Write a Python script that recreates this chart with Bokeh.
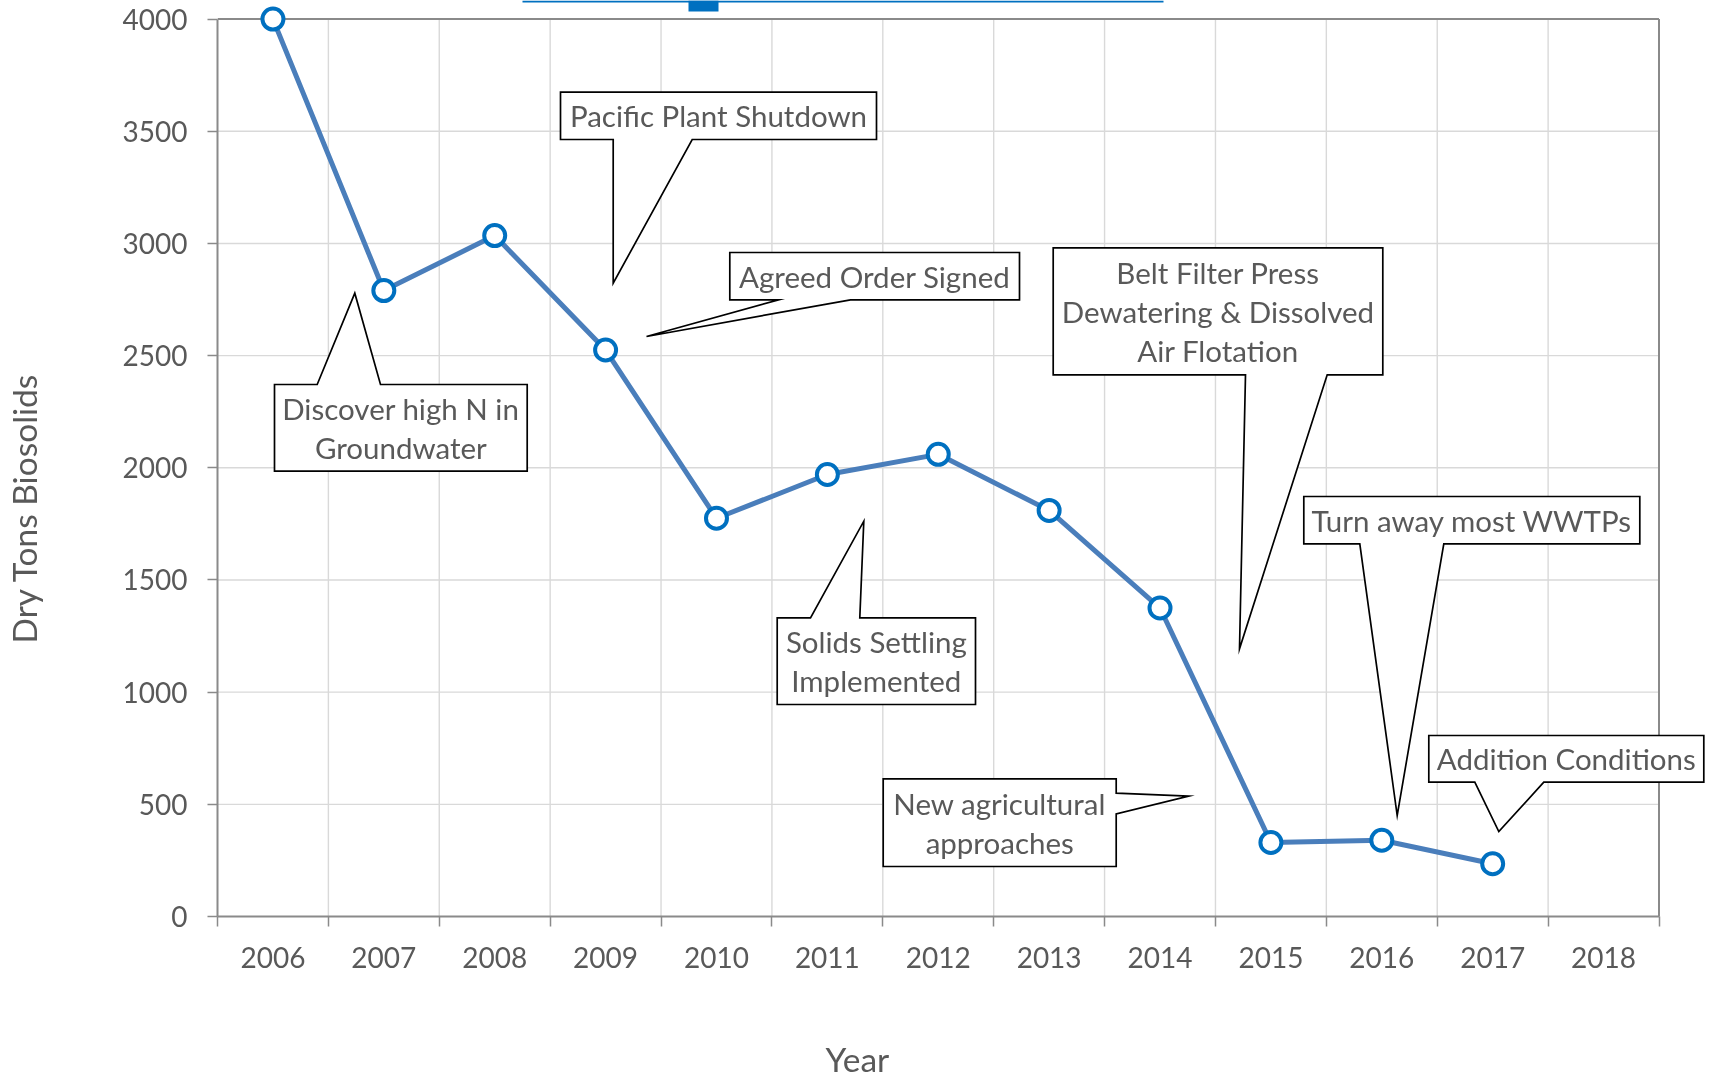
import math
from bokeh.plotting import figure
from bokeh.models import Range1d, FixedTicker, Title, LinearAxis
from bokeh.core.properties import value
from bokeh.embed import file_html
from bokeh.resources import INLINE

# ---------------- data ----------------
years = ["2006", "2007", "2008", "2009", "2010", "2011", "2012",
         "2013", "2014", "2015", "2016", "2017", "2018"]
tons = [4000, 2790, 3035, 2525, 1775, 1970, 2060, 1810, 1375, 330, 340, 235]
y_ticks = [0, 500, 1000, 1500, 2000, 2500, 3000, 3500, 4000]

x_title = "Year"
y_title = "Dry Tons Biosolids"

# callout annotations (box and pointer given in page pixels)
callouts = [
    dict(text="Pacific Plant Shutdown", box=(560, 91.7, 876, 139), side="bottom",
         base=(612.7, 691.7), tip=(612.7, 282.7)),
    dict(text="Agreed Order Signed", box=(729.3, 252, 1019, 299.3), side="bottom",
         base=(778.3, 850), tip=(646, 336)),
    dict(text="Discover high N in\nGroundwater", box=(274, 384, 526.7, 470.7), side="top",
         base=(316.7, 380), tip=(354.3, 292.7)),
    dict(text="Solids Settling\nImplemented", box=(776.7, 617.3, 975, 704), side="top",
         base=(810, 859.3), tip=(863.3, 520.7)),
    dict(text="Belt Filter Press\nDewatering & Dissolved\nAir Flotation",
         box=(1052.7, 247.3, 1382.3, 374.3), side="bottom",
         base=(1245, 1326.7), tip=(1239, 648.3)),
    dict(text="Turn away most WWTPs", box=(1303.3, 496, 1639.3, 543.3), side="bottom",
         base=(1359.3, 1443.3), tip=(1396.7, 815)),
    dict(text="New agricultural\napproaches", box=(882.7, 778.3, 1115.7, 866), side="right",
         base=(792.7, 813.3), tip=(1188.3, 795.7)),
    dict(text="Addition Conditions", box=(1428.3, 735, 1703.3, 781.7), side="bottom",
         base=(1474.3, 1543.3), tip=(1498.3, 831)),
]

# ---------------- layout ----------------
W, H = 1713, 1078
PX_LEFT, PX_RIGHT = 217.0, 1658.5
PX_TOP, PX_BOTTOM = 18.6, 916.0
ncat = len(years)
ymax = y_ticks[-1]
kx = (PX_RIGHT - PX_LEFT) / ncat
ky = (PX_BOTTOM - PX_TOP) / ymax


def fx(px):
    return (px - PX_LEFT) / kx


def fy(py):
    return (PX_BOTTOM - py) / ky


FONT = "Lato"
TXT = "#595959"
AXIS = "#8a8a8a"
GRID = "#d9d9d9"
TITLE_SIZE = 33.5

p = figure(width=W, height=H,
           x_range=Range1d(0, fx(W)), y_range=Range1d(0, fy(0)),
           min_border_left=int(PX_LEFT), min_border_right=0,
           min_border_top=0, min_border_bottom=int(H - PX_BOTTOM),
           output_backend="svg", toolbar_location=None,
           outline_line_color=None, background_fill_color="white",
           border_fill_color="white")
p.styles = {"position": "fixed", "top": "0px", "left": "0px"}
p.xgrid.visible = False
p.ygrid.visible = False

# x axis: labels at category centres, ticks at category boundaries
centers = [i + 0.5 for i in range(ncat)]
bounds = list(range(ncat + 1))
xa = p.xaxis[0]
xa.ticker = FixedTicker(ticks=centers, minor_ticks=bounds)
xa.major_label_overrides = {c: y for c, y in zip(centers, years)}
xa.bounds = (0, ncat)
xa.axis_line_color = AXIS
xa.axis_line_width = 2
xa.major_tick_line_color = None
xa.minor_tick_line_color = AXIS
xa.minor_tick_line_width = 1.5
xa.minor_tick_out = 10
xa.minor_tick_in = 0
xa.major_label_standoff = 20
xa.major_label_text_font = FONT
xa.major_label_text_font_size = "28px"
xa.major_label_text_color = TXT

ya = p.yaxis[0]
ya.ticker = FixedTicker(ticks=y_ticks)
ya.bounds = (0, ymax)
ya.axis_line_color = AXIS
ya.axis_line_width = 2
ya.major_tick_line_color = AXIS
ya.major_tick_line_width = 1.5
ya.major_tick_out = 10
ya.major_tick_in = 0
ya.minor_tick_line_color = None
ya.major_label_standoff = 20
ya.major_label_text_font = FONT
ya.major_label_text_font_size = "28px"
ya.major_label_text_color = TXT

# gridlines limited to the plot box
inner_b = bounds[1:-1]
p.segment(x0=inner_b, y0=[0] * len(inner_b), x1=inner_b, y1=[ymax] * len(inner_b),
          line_color=GRID, line_width=1.4)
inner_t = y_ticks[1:-1]
p.segment(x0=[0] * len(inner_t), y0=inner_t, x1=[ncat] * len(inner_t), y1=inner_t,
          line_color=GRID, line_width=1.4)
# box border (top and right)
p.segment(x0=[0, ncat], y0=[ymax, 0], x1=[ncat, ncat], y1=[ymax, ymax],
          line_color=AXIS, line_width=2)

# cut-off legend strip at the very top
p.quad(left=[fx(522)], right=[fx(1163)], top=[fy(0)], bottom=[fy(2)],
       fill_color="#0070C0", line_color=None)
p.quad(left=[fx(688)], right=[fx(718)], top=[fy(0)], bottom=[fy(11)],
       fill_color="#0070C0", line_color=None)

# callouts
xs, ys, tx, ty, tt = [], [], [], [], []
for c in callouts:
    L, T, R, B = c["box"]
    b1, b2 = c["base"]
    tpx, tpy = c["tip"]
    if c["side"] == "bottom":
        pts = [(L, T), (R, T), (R, B), (b2, B), (tpx, tpy), (b1, B), (L, B)]
    elif c["side"] == "top":
        pts = [(L, T), (b1, T), (tpx, tpy), (b2, T), (R, T), (R, B), (L, B)]
    else:
        pts = [(L, T), (R, T), (R, b1), (tpx, tpy), (R, b2), (R, B), (L, B)]
    xs.append([fx(a) for a, _ in pts])
    ys.append([fy(b) for _, b in pts])
    tx.append(fx((L + R) / 2))
    ty.append(fy((T + B) / 2))
    tt.append(c["text"])

p.patches(xs=xs, ys=ys, fill_color="white", line_color="black", line_width=1.7,
          line_join="miter")
p.text(x=tx, y=ty, text=tt, text_align="center", text_baseline="middle",
       text_font=value(FONT), text_font_size=value("29.5px"), text_color=TXT,
       text_line_height=1.11)

# series
p.line(x=centers[:len(tons)], y=tons, line_color="#4A7EBB", line_width=5)
p.scatter(x=centers[:len(tons)], y=tons, size=21, marker="circle",
          fill_color="white", line_color="#0070C0", line_width=4)


# blank spacer axes (one white tick in an empty corner) so that the axis
# titles sit as far out as in the reference
def spacer(gap, at):
    return LinearAxis(ticker=FixedTicker(ticks=[at]), axis_line_color=None,
                      major_tick_line_color="white", minor_tick_line_color=None,
                      major_tick_out=gap, major_tick_in=0, minor_tick_out=0,
                      minor_tick_in=0, major_label_standoff=0,
                      major_label_overrides={at: ""},
                      major_label_text_font_size="0px")


p.add_layout(spacer(66, ncat + 0.45), "below")
p.add_layout(Title(text=x_title, align="left", offset=608, standoff=0,
                   vertical_align="bottom", text_font=FONT,
                   text_font_size=f"{TITLE_SIZE}px", text_font_style="normal",
                   text_color=TXT), "below")
p.add_layout(spacer(76, fy(2)), "left")
p.add_layout(Title(text=y_title, align="left", offset=273, standoff=0,
                   vertical_align="bottom", text_font=FONT,
                   text_font_size=f"{TITLE_SIZE}px", text_font_style="normal",
                   text_color=TXT), "left")

open("out.html", "w").write(file_html(p, INLINE))
